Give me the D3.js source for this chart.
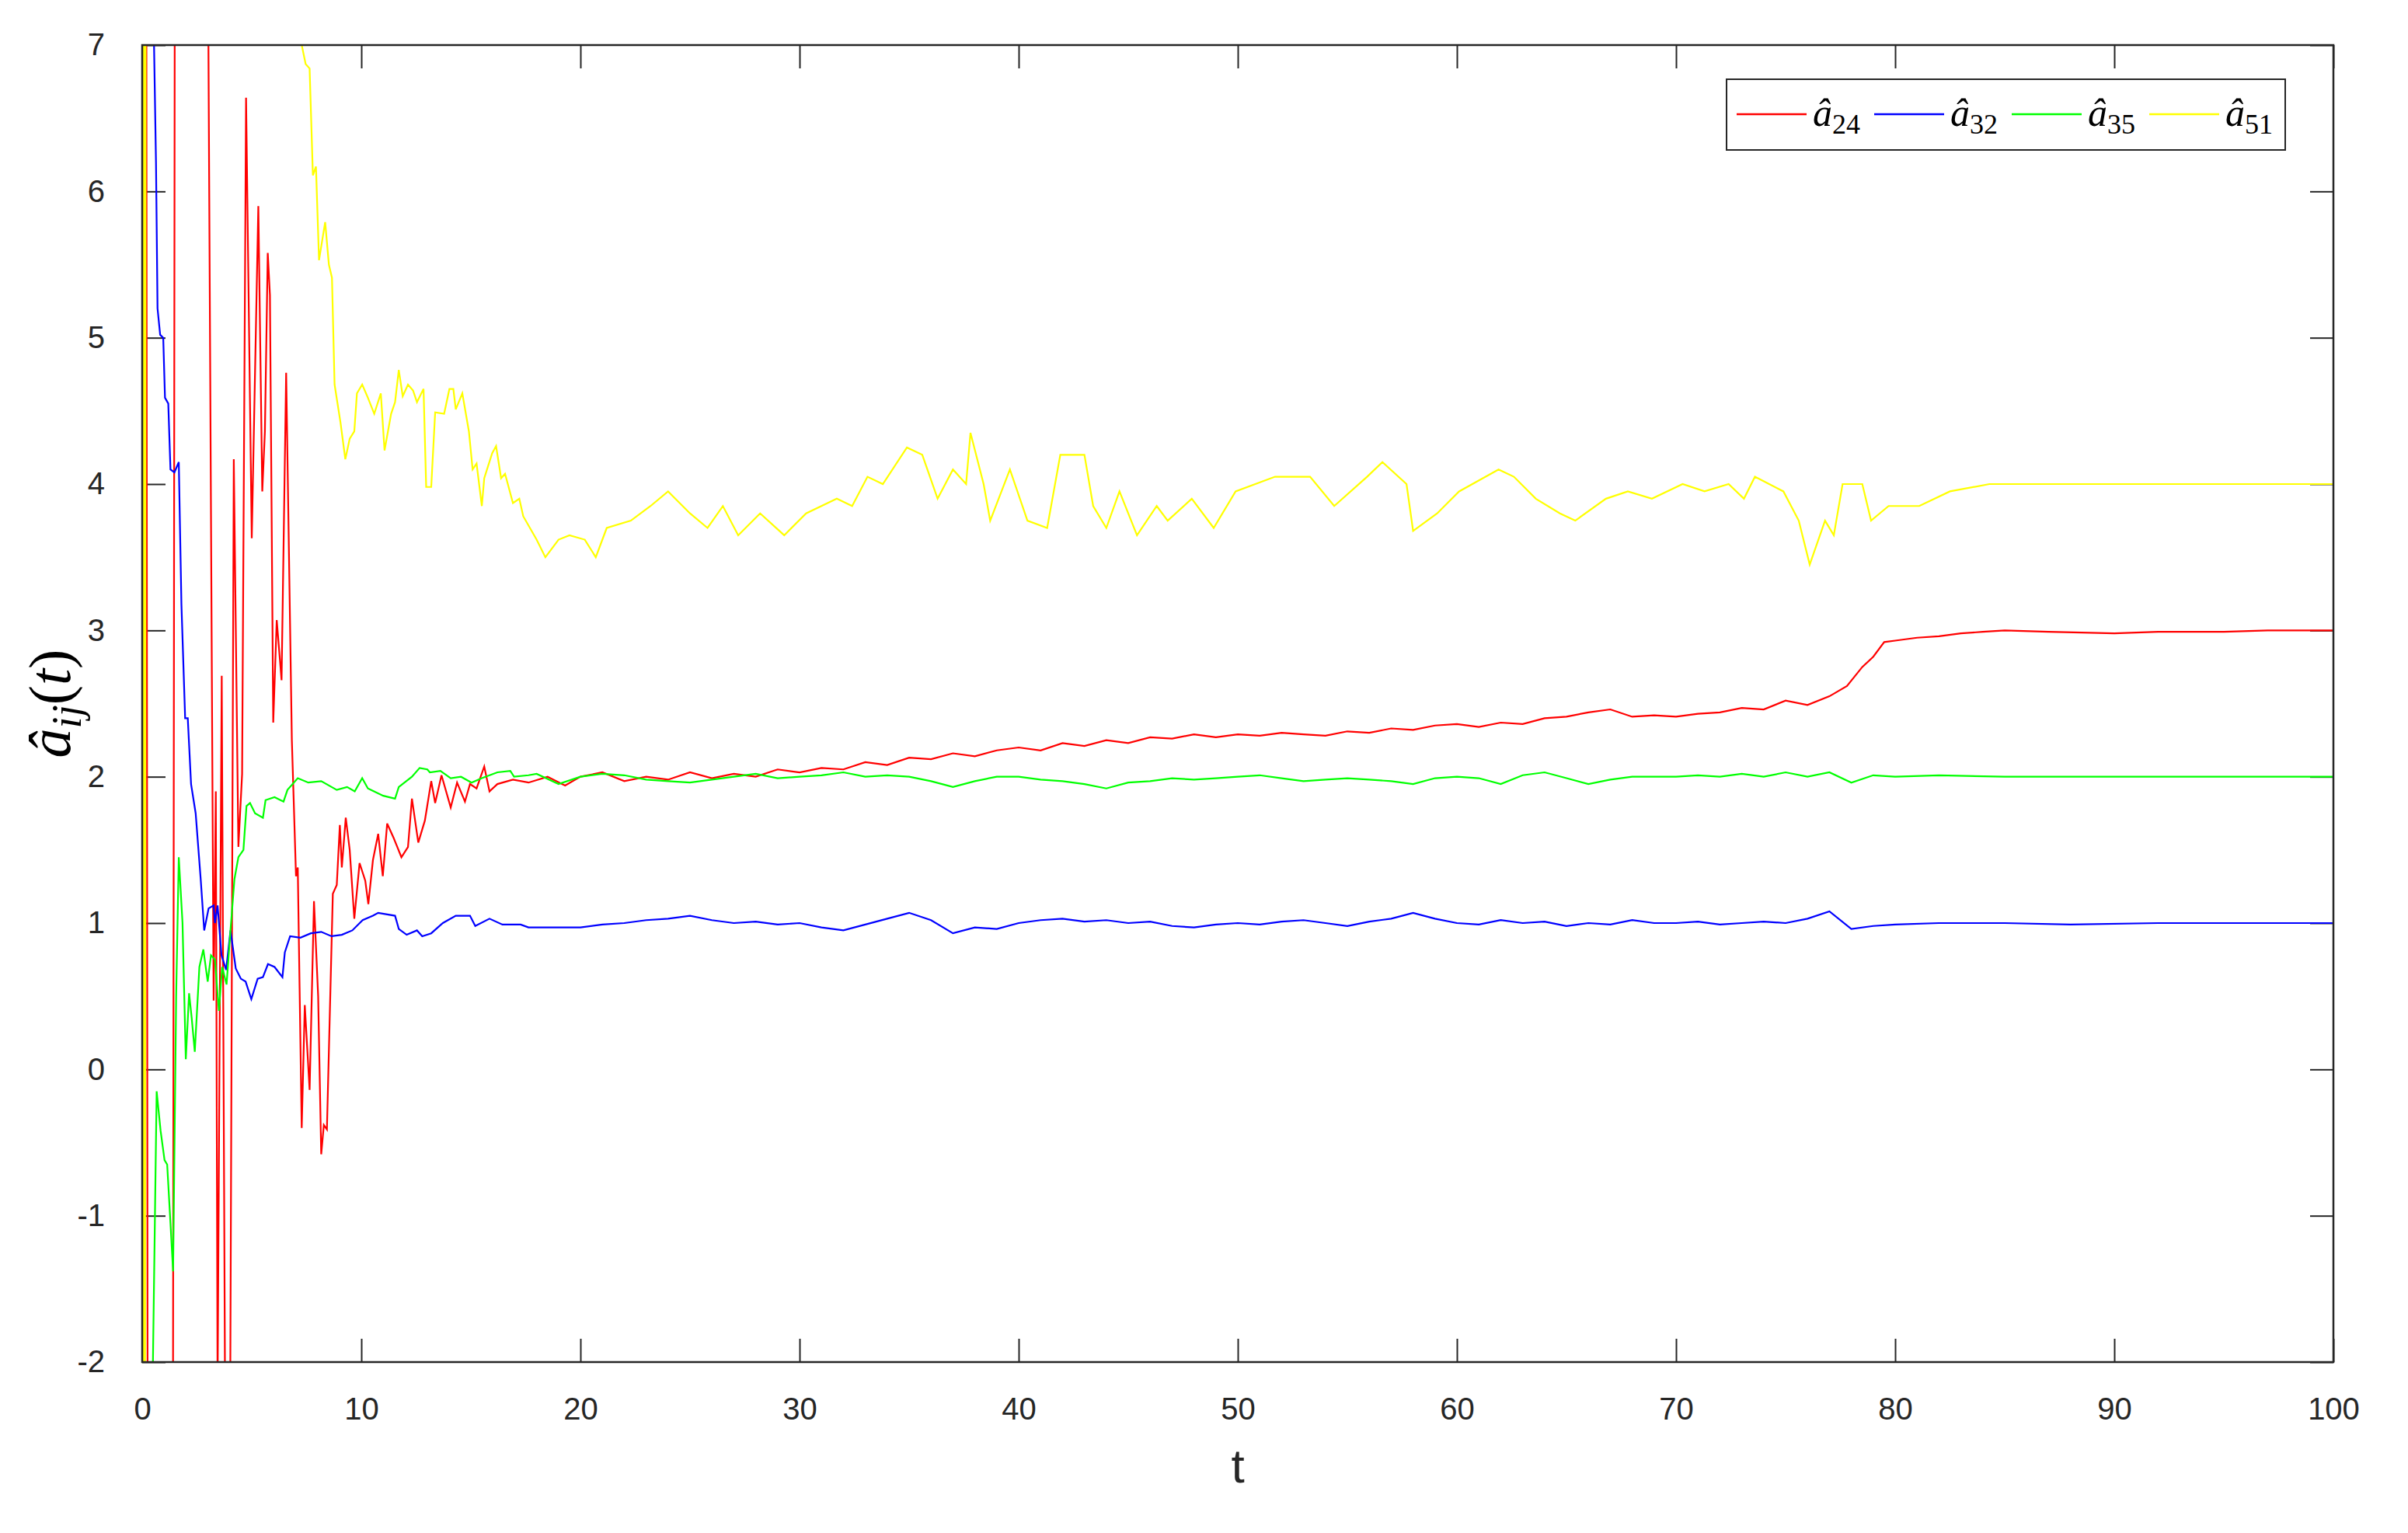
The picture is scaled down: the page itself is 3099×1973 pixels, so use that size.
<!DOCTYPE html>
<html><head><meta charset="utf-8">
<script src="https://cdn.jsdelivr.net/npm/d3@7"></script>
<style>body{margin:0;background:#fff}</style></head>
<body><svg id="c" width="3099" height="1973"></svg>
<script>
const xTicks=[0,10,20,30,40,50,60,70,80,90,100];
const yTicks=[-2,-1,0,1,2,3,4,5,6,7];
const seriesNames=["24","32","35","51"];
const seriesColors=["#ff0000","#0000ff","#00ff00","#ffff00"];
const a24=[[0,0],[0.18,9],[0.25,-3],[1.4,-3],[1.5,9],[2.95,9],[3.26,0.47],[3.36,1.9],[3.44,-2.2],[3.63,2.69],[3.79,-2.5],[4.01,-2.5],[4.18,4.17],[4.39,1.52],[4.56,2.02],[4.74,6.64],[5.0,3.63],[5.3,5.9],[5.48,3.95],[5.6,4.36],[5.73,5.58],[5.83,5.29],[5.98,2.37],[6.14,3.07],[6.36,2.66],[6.57,4.76],[6.83,2.25],[7.02,1.32],[7.1,1.38],[7.28,-0.4],[7.42,0.44],[7.64,-0.14],[7.84,1.15],[8.03,0.5],[8.17,-0.58],[8.29,-0.38],[8.43,-0.41],[8.7,1.2],[8.88,1.26],[9.02,1.67],[9.11,1.38],[9.29,1.72],[9.47,1.5],[9.68,1.03],[9.92,1.41],[10.18,1.29],[10.32,1.13],[10.53,1.43],[10.77,1.61],[10.98,1.32],[11.18,1.68],[11.48,1.58],[11.83,1.45],[12.13,1.52],[12.31,1.85],[12.6,1.55],[12.9,1.7],[13.19,1.97],[13.37,1.82],[13.66,2.01],[14.08,1.79],[14.37,1.96],[14.73,1.83],[14.96,1.95],[15.26,1.92],[15.61,2.07],[15.85,1.9],[16.21,1.95],[16.92,1.98],[17.63,1.96],[18.5,2.0],[19.3,1.94],[20,2.0],[21,2.03],[22,1.97],[23,2.0],[24,1.98],[25,2.03],[26,1.99],[27,2.02],[28,2.0],[29,2.05],[30,2.03],[31,2.06],[32,2.05],[33,2.1],[34,2.08],[35,2.13],[36,2.12],[37,2.16],[38,2.14],[39,2.18],[40,2.2],[41,2.18],[42,2.23],[43,2.21],[44,2.25],[45,2.23],[46,2.27],[47,2.26],[48,2.29],[49,2.27],[50,2.29],[51,2.28],[52,2.3],[53,2.29],[54,2.28],[55,2.31],[56,2.3],[57,2.33],[58,2.32],[59,2.35],[60,2.36],[61,2.34],[62,2.37],[63,2.36],[64,2.4],[65,2.41],[66,2.44],[67,2.46],[68,2.41],[69,2.42],[70,2.41],[71,2.43],[72,2.44],[73,2.47],[74,2.46],[75,2.52],[76,2.49],[77,2.55],[77.8,2.62],[78.5,2.75],[79,2.82],[79.5,2.92],[80,2.93],[81,2.95],[82,2.96],[83,2.98],[84,2.99],[85,3.0],[87,2.99],[90,2.98],[92,2.99],[95,2.99],[97,3.0],[100,3.0]];
const a32=[[0.3,9],[0.54,7.0],[0.63,6.2],[0.7,5.2],[0.82,5.02],[0.96,5.0],[1.04,4.59],[1.19,4.55],[1.29,4.1],[1.47,4.08],[1.67,4.15],[1.79,3.18],[1.96,2.4],[2.08,2.4],[2.23,1.95],[2.44,1.75],[2.67,1.3],[2.83,0.95],[3.03,1.1],[3.26,1.12],[3.32,1.0],[3.44,1.12],[3.62,0.78],[3.83,0.68],[4.03,0.95],[4.27,0.69],[4.5,0.62],[4.72,0.6],[4.98,0.48],[5.27,0.62],[5.51,0.63],[5.74,0.72],[6.04,0.7],[6.4,0.63],[6.51,0.8],[6.75,0.91],[7.22,0.9],[7.7,0.93],[8.17,0.94],[8.64,0.91],[9.11,0.92],[9.59,0.95],[10.06,1.02],[10.53,1.05],[10.77,1.07],[11.54,1.05],[11.71,0.96],[12.07,0.92],[12.54,0.95],[12.78,0.91],[13.19,0.93],[13.72,1.0],[14.31,1.05],[14.96,1.05],[15.2,0.98],[15.85,1.03],[16.44,0.99],[17.27,0.99],[17.63,0.97],[19,0.97],[20,0.97],[21,0.99],[22,1.0],[23,1.02],[24,1.03],[25,1.05],[26,1.02],[27,1.0],[28,1.01],[29,0.99],[30,1.0],[31,0.97],[32,0.95],[33,0.99],[34,1.03],[35,1.07],[36,1.02],[37,0.93],[38,0.97],[39,0.96],[40,1.0],[41,1.02],[42,1.03],[43,1.01],[44,1.02],[45,1.0],[46,1.01],[47,0.98],[48,0.97],[49,0.99],[50,1.0],[51,0.99],[52,1.01],[53,1.02],[54,1.0],[55,0.98],[56,1.01],[57,1.03],[58,1.07],[59,1.03],[60,1.0],[61,0.99],[62,1.02],[63,1.0],[64,1.01],[65,0.98],[66,1.0],[67,0.99],[68,1.02],[69,1.0],[70,1.0],[71,1.01],[72,0.99],[73,1.0],[74,1.01],[75,1.0],[76,1.03],[77,1.08],[78,0.96],[79,0.98],[80,0.99],[82,1.0],[85,1.0],[88,0.99],[92,1.0],[100,1.0]];
const a35=[[0.45,-3],[0.49,-2],[0.66,-0.15],[0.84,-0.42],[1.02,-0.62],[1.14,-0.65],[1.29,-1.05],[1.41,-1.38],[1.55,0.5],[1.67,1.45],[1.84,1.0],[1.99,0.07],[2.14,0.52],[2.26,0.35],[2.4,0.12],[2.61,0.7],[2.79,0.82],[2.99,0.6],[3.14,0.78],[3.32,0.75],[3.5,0.4],[3.65,0.7],[3.85,0.58],[4.03,0.95],[4.21,1.3],[4.39,1.45],[4.62,1.5],[4.76,1.8],[4.92,1.82],[5.15,1.75],[5.51,1.72],[5.63,1.84],[6.04,1.86],[6.45,1.83],[6.63,1.91],[7.1,1.99],[7.58,1.96],[8.17,1.97],[8.88,1.91],[9.35,1.93],[9.7,1.9],[10.04,1.99],[10.3,1.92],[11.0,1.87],[11.54,1.85],[11.71,1.93],[12.31,2.0],[12.66,2.06],[13.01,2.05],[13.13,2.03],[13.61,2.04],[14.08,1.99],[14.55,2.0],[15.03,1.96],[15.5,1.99],[16.21,2.03],[16.8,2.04],[16.97,2.0],[17.63,2.01],[18,2.02],[19,1.95],[20,2.0],[21,2.02],[22,2.01],[23,1.98],[24,1.97],[25,1.96],[26,1.98],[27,2.0],[28,2.02],[29,1.99],[30,2.0],[31,2.01],[32,2.03],[33,2.0],[34,2.01],[35,2.0],[36,1.97],[37,1.93],[38,1.97],[39,2.0],[40,2.0],[41,1.98],[42,1.97],[43,1.95],[44,1.92],[45,1.96],[46,1.97],[47,1.99],[48,1.98],[49,1.99],[50,2.0],[51,2.01],[52,1.99],[53,1.97],[54,1.98],[55,1.99],[56,1.98],[57,1.97],[58,1.95],[59,1.99],[60,2.0],[61,1.99],[62,1.95],[63,2.01],[64,2.03],[65,1.99],[66,1.95],[67,1.98],[68,2.0],[69,2.0],[70,2.0],[71,2.01],[72,2.0],[73,2.02],[74,2.0],[75,2.03],[76,2.0],[77,2.03],[78,1.96],[79,2.01],[80,2.0],[82,2.01],[85,2.0],[90,2.0],[100,2.0]];
const a51=[[0,-3],[0.04,9],[0.07,-3],[0.1,9],[0.13,-3],[0.16,9],[7.2,9],[7.28,7.0],[7.46,6.87],[7.64,6.84],[7.79,6.11],[7.93,6.17],[8.07,5.53],[8.35,5.79],[8.52,5.5],[8.66,5.41],[8.78,4.68],[9.05,4.42],[9.27,4.17],[9.47,4.31],[9.68,4.36],[9.8,4.62],[10.04,4.68],[10.3,4.59],[10.59,4.48],[10.89,4.62],[11.06,4.23],[11.36,4.48],[11.54,4.56],[11.71,4.78],[11.89,4.6],[12.13,4.68],[12.36,4.64],[12.54,4.56],[12.84,4.65],[12.96,3.98],[13.19,3.98],[13.37,4.49],[13.78,4.48],[14.02,4.65],[14.2,4.65],[14.31,4.51],[14.61,4.62],[14.91,4.36],[15.08,4.1],[15.26,4.14],[15.5,3.85],[15.61,4.04],[15.97,4.21],[16.15,4.26],[16.38,4.04],[16.56,4.07],[16.92,3.87],[17.21,3.9],[17.39,3.78],[18.0,3.62],[18.4,3.5],[19.0,3.62],[19.5,3.65],[20.2,3.62],[20.7,3.5],[21.2,3.7],[22.3,3.75],[23.2,3.85],[24.0,3.95],[25.0,3.8],[25.8,3.7],[26.5,3.85],[27.2,3.65],[28.2,3.8],[29.3,3.65],[30.3,3.8],[31.7,3.9],[32.4,3.85],[33.1,4.05],[33.8,4.0],[34.9,4.25],[35.6,4.2],[36.3,3.9],[37.0,4.1],[37.6,4.0],[37.8,4.35],[38.4,4.0],[38.7,3.75],[39.6,4.1],[40.4,3.75],[41.3,3.7],[41.9,4.2],[43.0,4.2],[43.4,3.85],[44.0,3.7],[44.6,3.95],[45.4,3.65],[46.3,3.85],[46.8,3.75],[47.9,3.9],[48.9,3.7],[49.9,3.95],[51.7,4.05],[53.3,4.05],[54.4,3.85],[55.9,4.05],[56.6,4.15],[57.7,4.0],[58.0,3.68],[59.1,3.8],[60.1,3.95],[61.9,4.1],[62.6,4.05],[63.6,3.9],[64.7,3.8],[65.4,3.75],[66.8,3.9],[67.8,3.95],[68.9,3.9],[70.3,4.0],[71.3,3.95],[72.4,4.0],[73.1,3.9],[73.6,4.05],[74.9,3.95],[75.6,3.75],[76.1,3.45],[76.8,3.75],[77.2,3.65],[77.6,4.0],[78.5,4.0],[78.9,3.75],[79.7,3.85],[81.1,3.85],[82.5,3.95],[84.3,4.0],[88,4.0],[92,4.0],[100,4.0]];
const allSeries=[a24,a32,a35,a51];

const L=183,R=3003,T=58,B=1753;
const svg=d3.select("#c");
const x=d3.scaleLinear().domain([0,100]).range([L,R]);
const y=d3.scaleLinear().domain([-2,7]).range([B,T]);
svg.append("defs").append("clipPath").attr("id","cp").append("rect").attr("x",L).attr("y",T).attr("width",R-L).attr("height",B-T);
const tl=30, font="'Liberation Sans',Arial,sans-serif";
const fmt=d=>String(d);
function style(g){g.select(".domain").remove();g.selectAll("line").attr("stroke","#262626").attr("stroke-width",2);g.selectAll("text").attr("font-family",font).attr("font-size",40).attr("fill","#262626");}
svg.append("g").attr("transform",`translate(0,${B})`).call(d3.axisBottom(x).tickValues(xTicks).tickFormat(fmt).tickSizeInner(-tl).tickSizeOuter(0).tickPadding(46)).call(style);
svg.append("g").attr("transform",`translate(0,${T})`).call(d3.axisTop(x).tickValues(xTicks).tickSizeInner(-tl).tickSizeOuter(0).tickFormat("")).call(style);
svg.append("g").attr("transform",`translate(${L},0)`).call(d3.axisLeft(y).tickValues(yTicks).tickFormat(fmt).tickSizeInner(-tl).tickSizeOuter(0).tickPadding(48)).call(style);
svg.append("g").attr("transform",`translate(${R},0)`).call(d3.axisRight(y).tickValues(yTicks).tickSizeInner(-tl).tickSizeOuter(0).tickFormat("")).call(style);
const line=d3.line().x(d=>x(d[0])).y(d=>y(d[1]));
const gl=svg.append("g").attr("clip-path","url(#cp)");
allSeries.forEach((s,i)=>gl.append("path").attr("d",line(s)).attr("fill","none").attr("stroke",seriesColors[i]).attr("stroke-width",2.2));
svg.append("rect").attr("x",L).attr("y",T).attr("width",R-L).attr("height",B-T).attr("fill","none").attr("stroke","#262626").attr("stroke-width",2.5);
const lg=svg.append("g");
lg.append("rect").attr("x",2222).attr("y",102).attr("width",719).attr("height",91).attr("fill","#fff").attr("stroke","#262626").attr("stroke-width",2);
seriesNames.forEach((n,i)=>{const x0=2235+i*177;
 lg.append("line").attr("x1",x0).attr("x2",x0+90).attr("y1",147).attr("y2",147).attr("stroke",seriesColors[i]).attr("stroke-width",2.5);
 const t=lg.append("text").attr("x",x0+98).attr("y",162).attr("font-family","'Liberation Serif',serif").attr("font-size",50).attr("fill","#000");
 t.append("tspan").attr("font-style","italic").text("â");
 t.append("tspan").attr("font-size",36).attr("dy",10).text(n);
});
svg.append("text").attr("x",(L+R)/2).attr("y",1908).attr("text-anchor","middle").attr("font-family",font).attr("font-size",62).attr("fill","#262626").text("t");
const yl=svg.append("text").attr("transform",`translate(90,${(T+B)/2}) rotate(-90)`).attr("text-anchor","middle").attr("font-family","'Liberation Serif',serif").attr("font-size",76).attr("fill","#000");
yl.append("tspan").attr("font-style","italic").text("â");
yl.append("tspan").attr("font-style","italic").attr("font-size",54).attr("dy",14).text("ij");
yl.append("tspan").attr("dy",-14).text("(");
yl.append("tspan").attr("font-style","italic").text("t");
yl.append("tspan").text(")");
</script></body></html>
